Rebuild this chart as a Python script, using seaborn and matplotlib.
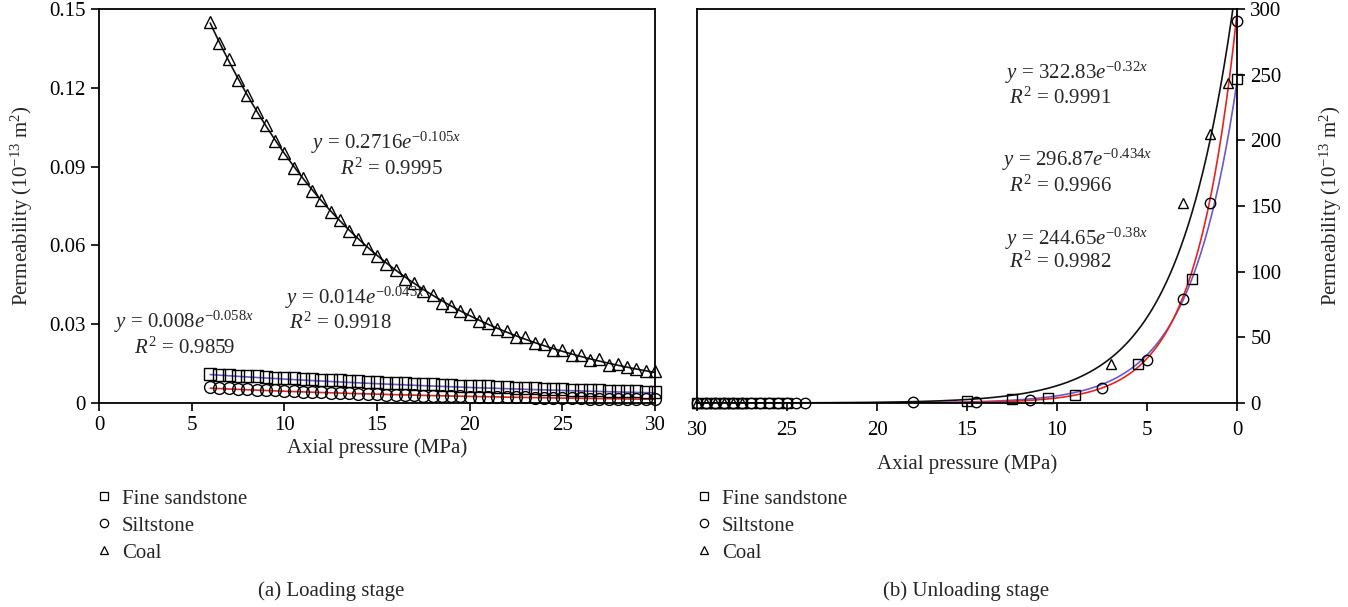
import numpy as np
import pandas as pd
import matplotlib
matplotlib.use("Agg")
import matplotlib.pyplot as plt
from matplotlib.lines import Line2D
import seaborn as sns

# ---------------- data ----------------
# Loading stage: axial pressure (MPa) and permeability (1e-13 m^2)
load_pressure = [6, 6.5, 7, 7.5, 8, 8.5, 9, 9.5, 10, 10.5, 11, 11.5, 12, 12.5, 13, 13.5,
                 14, 14.5, 15, 15.5, 16, 16.5, 17, 17.5, 18, 18.5, 19, 19.5, 20, 20.5,
                 21, 21.5, 22, 22.5, 23, 23.5, 24, 24.5, 25, 25.5, 26, 26.5, 27, 27.5,
                 28, 28.5, 29, 29.5, 30]
load_sandstone = [0.0111, 0.0107, 0.0108, 0.0104, 0.0103, 0.0101, 0.0100, 0.0097, 0.0096,
                  0.0094, 0.0093, 0.0091, 0.0089, 0.0088, 0.0087, 0.0084, 0.0083, 0.0081,
                  0.0081, 0.0078, 0.0077, 0.0075, 0.0074, 0.0072, 0.0071, 0.0069, 0.0068,
                  0.0066, 0.0066, 0.0064, 0.0063, 0.0061, 0.0060, 0.0058, 0.0058, 0.0056,
                  0.0055, 0.0053, 0.0053, 0.0051, 0.0050, 0.0049, 0.0048, 0.0047, 0.0046,
                  0.0045, 0.0044, 0.0043, 0.0043]
load_siltstone = [0.0061, 0.0058, 0.0057, 0.0055, 0.0053, 0.0051, 0.0050, 0.0048, 0.0047,
                  0.0045, 0.0043, 0.0042, 0.0041, 0.0039, 0.0038, 0.0037, 0.0036, 0.0034,
                  0.0033, 0.0032, 0.0031, 0.0030, 0.0029, 0.0028, 0.0027, 0.0026, 0.0026,
                  0.0025, 0.0024, 0.0024, 0.0023, 0.0022, 0.0022, 0.0021, 0.0021, 0.0020,
                  0.0020, 0.0019, 0.0019, 0.0018, 0.0018, 0.0017, 0.0017, 0.0016, 0.0016,
                  0.0016, 0.0015, 0.0015, 0.0015]
load_coal = [0.1452, 0.1369, 0.1310, 0.1230, 0.1173, 0.1106, 0.1059, 0.0999, 0.0951,
             0.0894, 0.0856, 0.0809, 0.0774, 0.0729, 0.0695, 0.0656, 0.0624, 0.0590,
             0.0561, 0.0529, 0.0505, 0.0472, 0.0456, 0.0427, 0.0413, 0.0380, 0.0370,
             0.0351, 0.0339, 0.0314, 0.0304, 0.0281, 0.0273, 0.0250, 0.0250, 0.0228,
             0.0224, 0.0203, 0.0203, 0.0181, 0.0184, 0.0165, 0.0167, 0.0146, 0.0148,
             0.0137, 0.0129, 0.0120, 0.0120]

# Unloading stage
unload_sand_p = [30, 29.5, 29, 28.5, 28, 27.5, 27, 26.5, 26, 25.5, 25, 15, 12.5, 10.5, 9, 5.5, 2.5, 0]
unload_sand_k = [0.2, 0.2, 0.2, 0.2, 0.2, 0.3, 0.3, 0.3, 0.3, 0.3, 0.3, 1.3, 3.0, 3.6, 6.4, 29.5, 94.7, 247.0]
unload_silt_p = [30, 29.5, 29, 28.5, 28, 27.5, 27, 26.5, 26, 25.5, 25, 24.5, 24, 18, 14.5, 11.5, 7.5, 5, 3, 1.5, 0]
unload_silt_k = [0.1, 0.1, 0.1, 0.1, 0.1, 0.1, 0.1, 0.1, 0.1, 0.1, 0.1, 0.1, 0.1, 0.5, 1.0, 2.3, 11.3, 33.0, 79.0, 152.0, 290.5]
unload_coal_p = [30, 29.5, 29, 28.5, 28, 27.5, 7, 3, 1.5, 0.5]
unload_coal_k = [0.3, 0.3, 0.3, 0.3, 0.3, 0.3, 30.0, 152.0, 204.5, 244.0]

# Exponential fits y = a * exp(b * x)
load_fit = {"Fine sandstone": (0.014, -0.043, 0.9918),
            "Siltstone": (0.008, -0.058, 0.9859),
            "Coal": (0.2716, -0.105, 0.9995)}
unload_fit = {"Fine sandstone": (244.65, -0.38, 0.9982),
              "Siltstone": (296.87, -0.434, 0.9966),
              "Coal": (322.83, -0.32, 0.9991)}

series_names = ["Fine sandstone", "Siltstone", "Coal"]
x_ticks = [0, 5, 10, 15, 20, 25, 30]
x_ticklabels = ["0", "5", "10", "15", "20", "25", "30"]
load_yticks = [0, 0.03, 0.06, 0.09, 0.12, 0.15]
load_yticklabels = ["0", "0.03", "0.06", "0.09", "0.12", "0.15"]
unload_yticks = [0, 50, 100, 150, 200, 250, 300]
unload_yticklabels = ["0", "50", "100", "150", "200", "250", "300"]

# ---------------- style ----------------
sns.set_theme(style="ticks")
plt.rcParams["font.family"] = ["Liberation Serif", "DejaVu Serif"]
plt.rcParams["mathtext.fontset"] = "custom"
plt.rcParams["mathtext.rm"] = "Liberation Serif"
plt.rcParams["mathtext.it"] = "Liberation Serif:italic"
plt.rcParams["mathtext.bf"] = "Liberation Serif:bold"
plt.rcParams["axes.unicode_minus"] = True

markers = {"Fine sandstone": "s", "Siltstone": "o", "Coal": "^"}
fit_colors = {"Fine sandstone": "#6a5acd", "Siltstone": "#e8231d", "Coal": "#111111"}

FS = 15
fig = plt.figure(figsize=(13.48, 6.07), dpi=100)
ax1 = fig.add_axes([99 / 1348, 1 - 403 / 607, 556 / 1348, 394 / 607])
ax2 = fig.add_axes([697 / 1348, 1 - 403 / 607, 540 / 1348, 394 / 607])


def draw_points(ax, xs, ys, name, ms):
    df = pd.DataFrame({"p": xs, "k": ys})
    sns.lineplot(data=df, x="p", y="k", ax=ax, sort=False, estimator=None,
                 linestyle="", marker=markers[name], markersize=ms,
                 markerfacecolor="none", markeredgecolor="black",
                 markeredgewidth=1.0, color="black", clip_on=False, zorder=3)


def draw_fit(ax, name, coef, x0, x1):
    a, b, _ = coef
    xx = np.linspace(x0, x1, 300)
    df = pd.DataFrame({"p": xx, "k": a * np.exp(b * xx)})
    sns.lineplot(data=df, x="p", y="k", ax=ax, sort=False, estimator=None,
                 color=fit_colors[name], linewidth=1.2, zorder=2)


def style_axes(ax):
    for s in ax.spines.values():
        s.set_visible(True)
        s.set_linewidth(1.3)
        s.set_color("black")
    ax.tick_params(axis="both", direction="out", length=6, width=1.2,
                   labelsize=FS, colors="black")


# ---------------- (a) loading ----------------
load_series = {"Fine sandstone": load_sandstone, "Siltstone": load_siltstone, "Coal": load_coal}
for name in series_names:
    draw_fit(ax1, name, load_fit[name], 6, 30)
for name in series_names:
    draw_points(ax1, load_pressure, load_series[name], name, 8.5)

ax1.set_xlim(0, 30)
ax1.set_ylim(0, 0.15)
ax1.set_xticks(x_ticks, x_ticklabels)
ax1.set_yticks(load_yticks, load_yticklabels)
style_axes(ax1)
ax1.set_xlabel("Axial pressure (MPa)", fontsize=FS, labelpad=2)
ax1.set_ylabel("Permeability (10$^{-13}$ m$^{2}$)", fontsize=FS, labelpad=10)


def eq_text(ax, x, y, coef):
    a, b, r2 = coef
    ax.text(x, y, rf"$y$ = {a:g}$e^{{{b:g}x}}$", fontsize=FS, ha="center", va="center")


def r2_text(ax, x, y, coef):
    ax.text(x, y, rf"$R^2$ = {coef[2]:.4f}", fontsize=FS, ha="center", va="center")


eq_text(ax1, 15.5, 0.0990, load_fit["Coal"])
r2_text(ax1, 15.8, 0.0890, load_fit["Coal"])
eq_text(ax1, 13.8, 0.0400, load_fit["Fine sandstone"])
r2_text(ax1, 13.0, 0.0305, load_fit["Fine sandstone"])
eq_text(ax1, 4.6, 0.0308, load_fit["Siltstone"])
r2_text(ax1, 4.6, 0.0210, load_fit["Siltstone"])

# ---------------- (b) unloading ----------------
unload_series = {"Fine sandstone": (unload_sand_p, unload_sand_k),
                 "Siltstone": (unload_silt_p, unload_silt_k),
                 "Coal": (unload_coal_p, unload_coal_k)}
for name in series_names:
    draw_fit(ax2, name, unload_fit[name], 0, 30)
for name in series_names:
    xs, ys = unload_series[name]
    draw_points(ax2, xs, ys, name, 7.5)

ax2.set_xlim(30, 0)
ax2.set_ylim(0, 300)
ax2.set_xticks(x_ticks, x_ticklabels)
ax2.set_yticks(unload_yticks, unload_yticklabels)
ax2.yaxis.tick_right()
ax2.yaxis.set_label_position("right")
style_axes(ax2)
ax2.tick_params(axis="x", pad=7)
ax2.set_xlabel("Axial pressure (MPa)", fontsize=FS, labelpad=10)
ax2.set_ylabel("Permeability (10$^{-13}$ m$^{2}$)", fontsize=FS, labelpad=26,
               rotation=90)

eq_text(ax2, 8.9, 251, unload_fit["Coal"])
r2_text(ax2, 9.8, 232, unload_fit["Coal"])
eq_text(ax2, 8.9, 185, unload_fit["Siltstone"])
r2_text(ax2, 9.8, 165, unload_fit["Siltstone"])
eq_text(ax2, 8.9, 125, unload_fit["Fine sandstone"])
r2_text(ax2, 9.8, 107, unload_fit["Fine sandstone"])

# ---------------- legends and captions ----------------
handles = [Line2D([], [], linestyle="", marker=markers[n], markersize=6,
                  markerfacecolor="none", markeredgecolor="black",
                  markeredgewidth=0.9) for n in series_names]
for xl in (96 / 1348, 696 / 1348):
    fig.legend(handles, series_names, loc="upper left",
               bbox_to_anchor=(xl, 1 - 489 / 607), frameon=False, fontsize=FS,
               handlelength=0.8, handletextpad=0.45, labelspacing=0.36,
               borderaxespad=0, borderpad=0)

fig.text(331 / 1348, 1 - 591 / 607, "(a) Loading stage", fontsize=FS,
         ha="center", va="center")
fig.text(966 / 1348, 1 - 591 / 607, "(b) Unloading stage", fontsize=FS,
         ha="center", va="center")

fig.savefig("out.png", dpi=100)
